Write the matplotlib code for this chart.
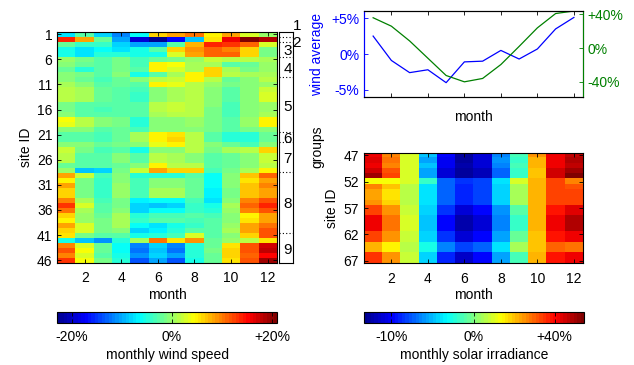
import numpy as np
import matplotlib
matplotlib.use("Agg")
import matplotlib.pyplot as plt
from matplotlib.colors import LinearSegmentedColormap, Normalize, TwoSlopeNorm

plt.rcParams["font.family"] = ["Liberation Sans", "DejaVu Sans"]
plt.rcParams["font.size"] = 10

# ---------------------------------------------------------------- data
months = np.arange(1, 13)
wind_sites = np.arange(1, 47)
solar_sites = np.arange(47, 68)

month_ticks = [2, 4, 6, 8, 10, 12]
wind_site_ticks = [1, 6, 11, 16, 21, 26, 31, 36, 41, 46]
solar_site_ticks = [47, 52, 57, 62, 67]

# monthly wind speed deviation from annual mean, % (rows = sites 1..46)
wind_change = np.array([
    [-7.6, -3.0, -8.5, -11.5, -6.0, 6.5, 8.0, 10.3, 5.0, 8.0, 2.5, 0.0],
    [13.5, 8.0, -2.0, -10.0, -19.5, -23.0, -17.5, -9.0, 5.5, 16.0, 20.5, 18.5],
    [-2.0, -4.0, -4.0, -8.0, -10.3, -10.0, -2.5, 7.5, 13.5, 13.0, 11.0, 2.5],
    [-5.5, -7.5, -6.0, -7.5, -5.5, -2.5, 6.0, 9.0, 11.0, 9.5, 6.0, -1.5],
    [-5.5, -7.5, -5.0, -5.0, -5.5, -5.5, 2.5, 8.5, 11.0, 11.0, 6.5, -1.5],
    [0.0, -1.5, -2.5, -1.5, -3.5, -2.0, -1.5, 0.0, 2.0, 1.5, 1.5, 1.0],
    [-0.5, -2.0, -2.5, -1.5, -3.5, 5.0, 4.0, 1.0, 0.5, -2.5, -2.0, 0.0],
    [-2.0, -4.5, -3.0, -1.5, -2.5, 5.0, 3.0, 1.0, 6.0, 0.5, -1.5, 0.0],
    [-1.0, -1.5, -3.0, -1.0, -5.5, -3.0, 0.5, 5.0, 6.5, 1.5, 0.5, 0.5],
    [-1.0, -2.0, -3.5, -2.0, -1.0, 1.5, 2.0, 5.0, 1.5, -2.0, -1.0, 1.5],
    [0.5, -1.0, -2.5, -2.0, -2.5, 5.0, 3.5, 1.5, 0.0, -1.5, -1.0, 0.0],
    [1.5, 0.5, -2.0, -2.5, -3.5, -0.5, 1.0, 1.5, -1.0, -3.0, -1.0, 2.0],
    [1.5, 0.5, -2.0, -3.0, -4.0, -1.0, 1.0, 1.5, -1.0, -3.0, -1.0, 2.5],
    [1.5, 0.5, -2.0, -3.0, -4.0, -1.0, 1.0, 1.5, -1.0, -3.0, -1.0, 2.5],
    [-1.5, -3.0, -3.0, -3.0, -3.0, 1.5, 2.0, 1.5, -1.0, -3.5, -1.0, 0.0],
    [-1.5, -3.0, -3.5, -3.0, -3.0, 1.5, 2.0, 1.5, -1.5, -3.5, -1.0, 0.0],
    [-1.0, -2.5, -3.0, -3.0, -3.0, 1.0, 1.5, 1.5, -1.5, -3.5, -1.0, 0.5],
    [4.0, 1.5, -1.0, -1.5, -4.5, -1.0, -1.0, 0.0, -1.5, -2.5, 0.0, 5.0],
    [3.5, 1.5, -1.0, -1.5, -4.5, -1.0, -1.0, 0.0, -1.5, -2.5, 0.0, 5.0],
    [-1.0, -0.5, -2.5, -2.0, -3.5, -0.5, -1.0, -0.5, -1.5, -2.5, -1.5, -1.0],
    [-2.5, -2.5, -3.5, -2.0, 0.5, 5.0, 5.5, 1.5, -2.5, -4.5, -4.5, -2.0],
    [-2.5, -2.5, -3.5, -2.0, 0.5, 4.5, 6.0, 1.5, -2.5, -4.5, -4.5, -2.0],
    [-1.0, -1.0, -2.0, -1.5, -1.0, 3.5, 5.0, 1.5, -1.0, -2.0, -3.5, -1.0],
    [2.0, -1.5, -3.5, -3.0, -5.5, -1.0, -1.0, 1.5, -1.5, 0.5, 1.5, 6.0],
    [1.5, -2.5, -3.0, -1.0, -2.5, 1.5, 1.0, -0.5, -3.0, -2.0, -0.5, 2.0],
    [1.5, -2.5, -3.0, -1.0, -2.5, 1.5, 1.0, -0.5, -3.0, -2.0, -0.5, 2.0],
    [-2.0, -2.5, -2.5, -2.0, -1.0, 5.0, 1.5, 1.5, -3.0, -2.0, -0.5, 1.5],
    [0.0, -9.0, -8.5, -1.5, 2.0, 8.0, 6.5, 6.5, -3.5, -1.5, 0.5, 4.5],
    [8.0, 2.0, -3.5, -1.0, -4.5, -4.5, -4.5, -2.5, -6.0, -0.5, 7.0, 11.0],
    [5.0, -1.5, -4.0, -1.0, -3.5, -0.5, -0.5, -2.0, -6.0, -1.0, 5.5, 8.0],
    [8.0, -1.5, -4.0, 0.0, -3.5, -0.5, -0.5, -2.0, -6.5, -1.0, 7.0, 9.5],
    [6.5, -1.5, -4.0, 0.0, -3.5, 0.5, 0.5, -2.0, -7.0, -1.5, 7.0, 8.0],
    [6.5, -1.5, -4.0, 0.0, -3.5, 0.5, 0.5, -2.0, -7.0, -1.5, 7.0, 8.0],
    [9.5, 0.5, -3.5, -1.5, -7.0, -6.0, -6.0, -3.5, -7.5, -1.0, 9.5, 11.5],
    [13.0, 2.5, -3.0, -1.5, -8.0, -9.0, -8.5, -4.0, -5.5, 0.5, 11.0, 14.0],
    [10.3, 1.0, -2.5, -1.0, -8.0, -6.0, -6.0, -4.0, -4.5, 0.0, 9.5, 11.5],
    [6.5, 0.0, -2.0, 0.5, -4.5, -3.5, -3.5, -3.0, -3.5, -0.5, 5.0, 8.0],
    [5.0, 0.0, -1.5, 1.0, -4.0, -3.0, -3.0, -3.5, -3.0, -1.0, 5.5, 8.0],
    [8.0, 3.0, -1.5, 0.5, -6.0, -7.5, -5.5, -4.0, -3.0, 0.0, 8.5, 10.3],
    [6.5, 2.5, -1.5, -1.0, -8.0, -7.0, -4.5, -3.0, -3.0, 0.5, 8.0, 12.0],
    [5.5, -1.5, -2.5, -2.5, -5.5, -4.5, -3.5, 3.0, -3.0, -0.5, 6.5, 11.5],
    [-5.5, -9.0, -11.0, -4.5, 1.0, 10.3, 5.5, 9.0, -2.0, 0.0, 1.5, 5.5],
    [9.5, 2.5, -2.0, -6.0, -12.0, -8.0, -12.0, -4.5, -2.0, 5.5, 11.5, 17.5],
    [11.5, 4.0, -2.0, -6.0, -12.5, -9.0, -12.5, -5.0, -1.5, 6.5, 12.0, 18.0],
    [9.5, 2.5, -3.0, -5.5, -11.0, -8.0, -10.5, -5.0, -2.0, 6.5, 11.0, 15.0],
    [13.0, 4.0, -1.5, -5.0, -13.5, -10.0, -14.0, -5.5, -2.0, 5.5, 11.5, 19.5],
])

# monthly solar irradiance deviation from annual mean, % (rows = sites 47..67)
solar_change = np.array([
    [41, 26, 9, -4.8, -9.6, -12.5, -10.9, -6.6, -1.3, 24, 42, 47],
    [44, 29, 9, -5.5, -10.3, -12.5, -11.0, -6.0, -1.7, 22, 42, 49],
    [41, 27, 9, -4.8, -10.3, -12.3, -11.0, -6.6, -1.3, 22, 42, 47],
    [46, 31, 9, -5.5, -10.9, -12.8, -11.8, -7.4, -2.0, 20, 45, 51],
    [51, 33, 9, -5.5, -11.0, -12.8, -12.0, -7.4, -2.0, 20, 45, 53],
    [13, 13, 9, -2.0, -7.4, -8.5, -8.0, -4.0, 9, 22, 33, 26],
    [26, 19, 6, -3.8, -7.4, -9.0, -8.0, -4.3, 4, 22, 33, 32],
    [23, 17, 6, -3.8, -7.2, -9.0, -8.0, -4.5, 5, 22, 34, 33],
    [23, 17, 6, -3.8, -7.2, -9.0, -8.0, -4.5, 5, 22, 34, 33],
    [25, 18, 6, -3.8, -7.2, -9.0, -8.0, -4.5, 5, 22, 34, 33],
    [34, 25, 7.5, -4.3, -8.5, -10.9, -9.8, -6.0, -1.0, 22, 39, 44],
    [34, 25, 7.5, -4.3, -8.5, -10.9, -9.8, -6.0, -1.0, 22, 39, 44],
    [42, 28, 9, -4.8, -9.6, -12.3, -10.9, -6.6, -1.8, 21, 41, 49],
    [42, 28, 9, -4.8, -9.6, -12.3, -10.9, -6.6, -1.8, 21, 41, 49],
    [42, 28, 9, -4.8, -9.6, -12.3, -10.9, -6.6, -1.8, 21, 41, 49],
    [34, 24, 7.5, -4.5, -8.5, -10.9, -9.8, -5.8, -0.5, 20, 38, 41],
    [34, 24, 7.5, -4.5, -8.5, -10.9, -9.8, -5.8, -0.5, 20, 38, 41],
    [22, 14, 6, -2.5, -6.6, -8.0, -7.2, -3.8, 4, 19, 30, 29],
    [22, 14, 6, -2.5, -6.6, -8.0, -7.2, -3.8, 4, 19, 30, 29],
    [35, 25, 7, -4.3, -9.0, -11.5, -9.8, -5.8, -1.3, 22, 39, 42],
    [35, 25, 7, -4.3, -9.0, -11.5, -9.8, -5.8, -1.3, 22, 39, 42],
])

# column averages shown in the upper panel (%)
wind_average = [2.5, -0.9, -2.6, -2.2, -4.0, -1.1, -1.0, 0.5, -0.7, 0.7, 3.5, 5.1]
solar_average = [36, 26, 8.5, -12, -32.5, -40, -36, -19.5, 2, 24, 41, 44]

# site groups: first site of every group
group_first_site = [1, 2, 3, 6, 10, 21, 23, 29, 41]
group_names = ["1", "2", "3", "4", "5", "6", "7", "8", "9"]


# ---------------------------------------------------------------- style
def matlab_jet(n=64):
    anchors = [(0.0, (0, 0, 0.5625)), (0.125, (0, 0, 1)), (0.375, (0, 1, 1)),
               (0.625, (1, 1, 0)), (0.875, (1, 0, 0)), (1.0, (0.5, 0, 0))]
    return LinearSegmentedColormap.from_list("mjet", anchors, N=n)


cmap = matlab_jet(64)
wind_norm = Normalize(vmin=-23, vmax=21)
solar_norm = TwoSlopeNorm(vmin=-13.3, vcenter=0, vmax=54.6)


def box_ticks(ax):
    ax.tick_params(direction="in", top=True, right=True, length=3, width=0.6,
                   colors="black", labelsize=10)
    ax.tick_params(axis="x", pad=6)
    for s in ax.spines.values():
        s.set_linewidth(0.8)


W, H = 634, 365
fig = plt.figure(figsize=(W / 100, H / 100), dpi=100)


def px_axes(x0, y0, x1, y1):
    return fig.add_axes([x0 / W, 1 - y1 / H, (x1 - x0) / W, (y1 - y0) / H])


# ---------------------------------------------------------------- wind heatmap
ax_w = px_axes(57.3, 31.7, 276.7, 262.7)
im_w = ax_w.imshow(wind_change, cmap=cmap, norm=wind_norm, aspect="auto",
                   interpolation="nearest",
                   extent=(0.5, 12.5, wind_sites[-1] + 0.5, wind_sites[0] - 0.5))
ax_w.set_xticks(month_ticks)
ax_w.set_yticks(wind_site_ticks)
ax_w.set_xlabel("month", labelpad=2)
ax_w.set_ylabel("site ID", labelpad=3)
box_ticks(ax_w)

# group strip
ax_g = px_axes(278.7, 31.7, 293.3, 262.7)
ax_g.set_xlim(0, 1)
ax_g.set_ylim(wind_sites[-1] + 0.5, wind_sites[0] - 0.5)
ax_g.set_xticks([])
ax_g.set_yticks([])
for s in ax_g.spines.values():
    s.set_linewidth(0.8)
bounds = list(np.array(group_first_site) - 0.5) + [wind_sites[-1] + 0.5]
for b in bounds[1:-1]:
    ax_g.plot([0, 1.08], [b, b], color="black", lw=0.8, ls=(0, (1, 2)),
              clip_on=False)
for i, name in enumerate(group_names):
    lo, hi = bounds[i], bounds[i + 1]
    if hi - lo < 2:
        # narrow groups get their label placed outside the strip
        yy = lo - 1.2 if i == 0 else hi + 0.2
        ax_g.text(1.25, yy, name, ha="center", va="center", fontsize=11,
                  clip_on=False)
    else:
        ax_g.text(0.62, (lo + hi) / 2 + 0.4, name, ha="center", va="center",
                  fontsize=11)
ax_g.yaxis.set_label_position("right")
ax_g.set_ylabel("groups", labelpad=12)

# ---------------------------------------------------------------- averages
ax_l = px_axes(364, 11, 583, 97)
ax_l.plot(months, wind_average, color="blue", lw=0.9)
ax_l.set_xlim(0.5, 12.5)
ax_l.set_ylim(-6, 6)
ax_l.set_xticks(month_ticks)
ax_l.set_xticklabels([])
ax_l.set_yticks([-5, 0, 5])
ax_l.set_yticklabels(["-5%", "0%", "+5%"])
ax_l.set_xlabel("month", labelpad=6)
ax_l.set_ylabel("wind average", color="blue", labelpad=5)
ax_l.tick_params(direction="in", top=True, length=3, width=0.6, labelsize=10)
ax_l.tick_params(axis="y", colors="blue")
for s in ax_l.spines.values():
    s.set_linewidth(0.8)
ax_l.spines["left"].set_color("blue")

ax_r = ax_l.twinx()
ax_r.plot(months, solar_average, color="green", lw=0.9)
ax_r.set_ylim(-58, 44)
ax_r.set_yticks([-40, 0, 40])
ax_r.set_yticklabels(["-40%", "0%", "+40%"])
ax_r.tick_params(direction="in", length=3, width=0.6, colors="green",
                 labelsize=10)
for s in ax_r.spines.values():
    s.set_linewidth(0.8)
ax_r.spines["right"].set_color("green")
ax_r.spines["left"].set_color("blue")

# ---------------------------------------------------------------- solar heatmap
ax_s = px_axes(364, 152.7, 583, 263.3)
im_s = ax_s.imshow(solar_change, cmap=cmap, norm=solar_norm, aspect="auto",
                   interpolation="nearest",
                   extent=(0.5, 12.5, solar_sites[-1] + 0.5, solar_sites[0] - 0.5))
ax_s.set_xticks(month_ticks)
ax_s.set_yticks(solar_site_ticks)
ax_s.set_xlabel("month", labelpad=2)
ax_s.set_ylabel("site ID", labelpad=3)
box_ticks(ax_s)


# ---------------------------------------------------------------- colorbars
def bar(im, x0, x1, ticks, labels, title):
    cax = px_axes(x0, 312.3, x1, 322.7)
    cb = fig.colorbar(im, cax=cax, orientation="horizontal")
    cb.set_ticks(ticks)
    cb.set_ticklabels(labels)
    cax.xaxis.set_ticks_position("both")
    cax.tick_params(direction="in", length=3, width=0.6, labelsize=10,
                    labelbottom=True, labeltop=False, pad=5)
    cb.outline.set_linewidth(0.8)
    cb.set_label(title, labelpad=3)
    return cb


bar(im_w, 57, 277, [-20, 0, 20], ["-20%", "0%", "+20%"], "monthly wind speed")
bar(im_s, 364, 584, [-10, 0, 40], ["-10%", "0%", "+40%"],
    "monthly solar irradiance")

fig.savefig("out.png", dpi=100)
